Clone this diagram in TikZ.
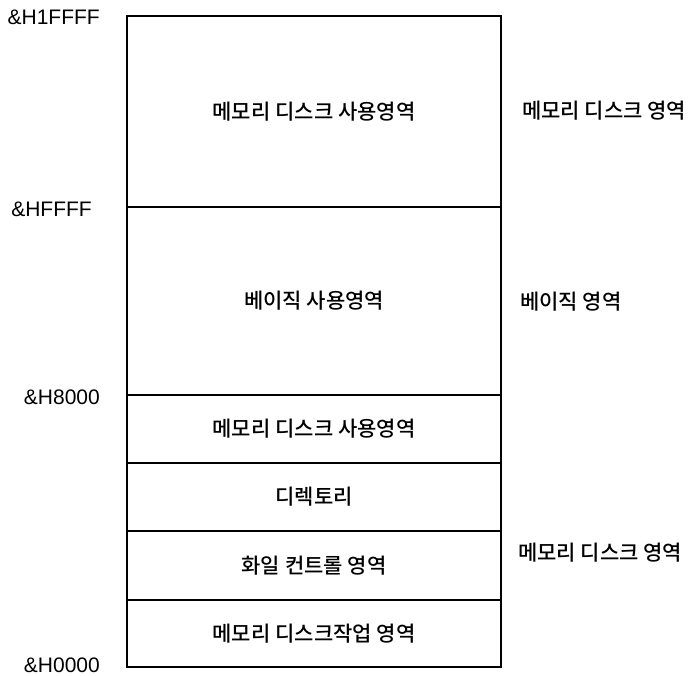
\documentclass[tikz,border=0pt]{standalone}
\usepackage{fontspec}
\newfontfamily\kr{Noto Sans CJK KR Medium}
\newfontfamily\addrfont{Liberation Sans}
\usetikzlibrary{positioning}
\begin{document}
\begin{tikzpicture}[x=1pt,y=-1pt,node distance=0pt,
    area/.style={draw,line width=1.1pt,minimum width=374pt,inner sep=0pt,outer sep=0pt,
      font=\kr\fontsize{21}{24}\selectfont},
    addr/.style={anchor=east,inner sep=0pt,font=\addrfont\fontsize{21}{24}\selectfont},
    side/.style={anchor=west,inner sep=0pt,font=\kr\fontsize{21}{24}\selectfont}]
  \useasboundingbox (0,0) rectangle (690,676);
  % memory map, top to bottom
  \node[area,minimum height=191pt,anchor=north] (disk1) at (314,16) {메모리 디스크 사용영역};
  \node[area,minimum height=188pt,below=of disk1] (basic) {베이직 사용영역};
  \node[area,minimum height=68pt,below=of basic] (disk2) {메모리 디스크 사용영역};
  \node[area,minimum height=68pt,below=of disk2] (dir) {디렉토리};
  \node[area,minimum height=69pt,below=of dir] (fctl) {화일 컨트롤 영역};
  \node[area,minimum height=67pt,below=of fctl] (work) {메모리 디스크작업 영역};
  % addresses
  \node[addr] (a1ffff) at (100,17) {\&H1FFFF};
  \node[addr] (affff) at (92,209) {\&HFFFF};
  \node[addr] (a8000) at (100,397) {\&H8000};
  \node[addr] (a0000) at (100,665) {\&H0000};
  % areas
  \node[side] (sdisk1) at (522,111) {메모리 디스크 영역};
  \node[side] (sbasic) at (520,302) {베이직 영역};
  \node[side] (sdisk2) at (518,553) {메모리 디스크 영역};
\end{tikzpicture}
\end{document}
